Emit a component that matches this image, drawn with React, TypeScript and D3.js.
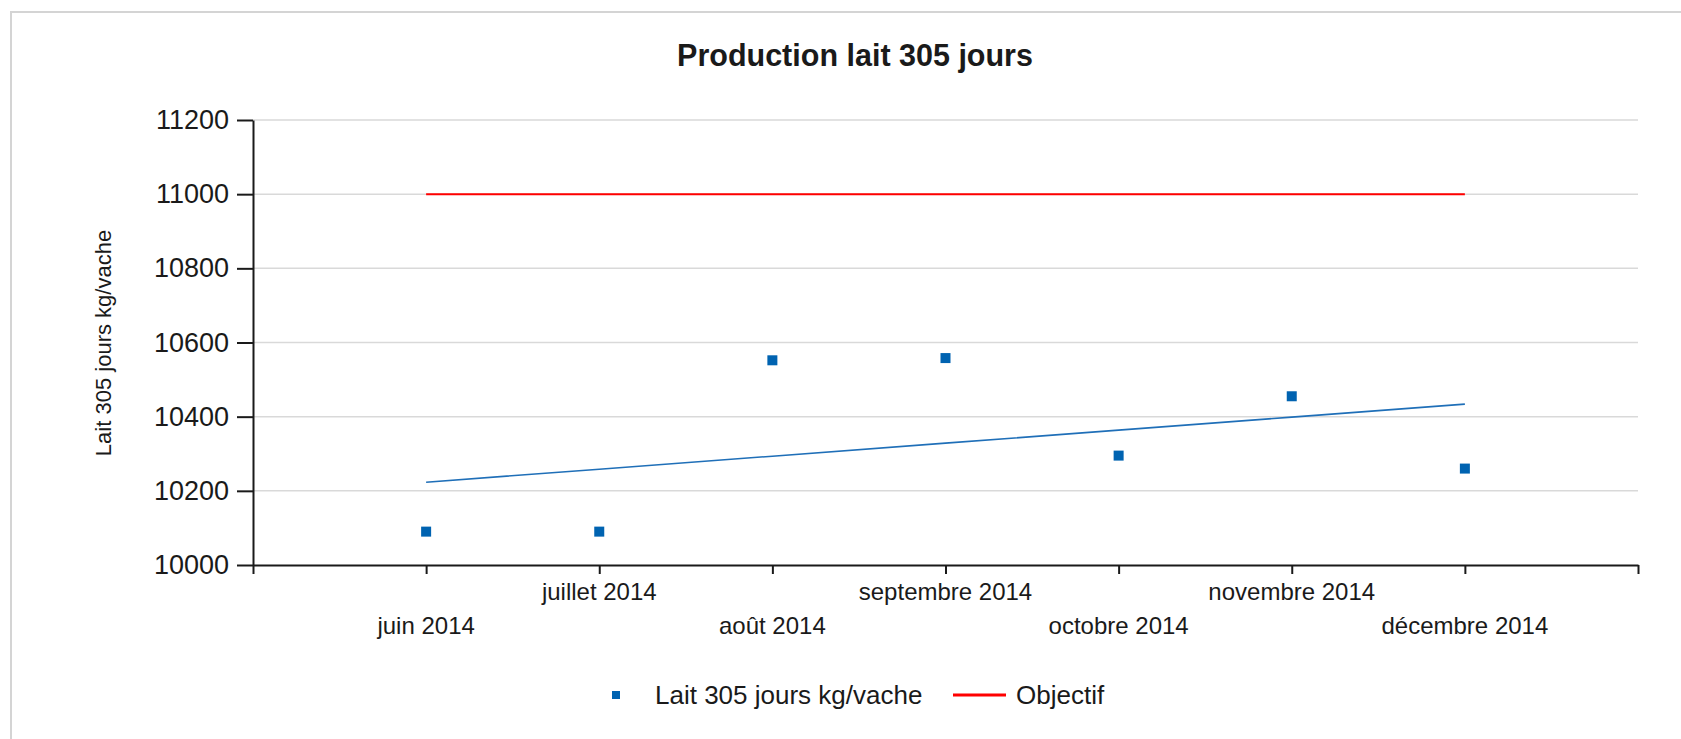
import React, { useEffect, useRef } from 'react';
import * as d3 from 'd3';

const months = ['juin 2014', 'juillet 2014', 'août 2014', 'septembre 2014', 'octobre 2014', 'novembre 2014', 'décembre 2014'];
const laitValues = [10090, 10090, 10552, 10558, 10295, 10455, 10260];
const objectifValues = [11000, 11000, 11000, 11000, 11000, 11000, 11000];
const yTicks = [10000, 10200, 10400, 10600, 10800, 11000, 11200];

const FONT = '"Liberation Sans", Arial, sans-serif';

const App = () => {
    const chartRef = useRef<SVGSVGElement>(null);

    useEffect(() => {
        const svg = d3.select(chartRef.current);
        svg.selectAll('*').remove();

        const x = d3.scaleLinear().domain([-1, 7]).range([253, 1638]);
        const y = d3.scaleLinear().domain([10000, 11200]).range([565, 120]);

        // frame
        svg.append('rect')
            .attr('x', 11).attr('y', 12)
            .attr('width', 1700).attr('height', 800)
            .attr('fill', '#fff')
            .attr('stroke', '#d4d4d4')
            .attr('stroke-width', 2);

        // title
        svg.append('text')
            .attr('x', 855).attr('y', 66)
            .attr('text-anchor', 'middle')
            .attr('font-family', FONT)
            .attr('font-size', 30.5)
            .attr('font-weight', 'bold')
            .attr('fill', '#1a1a1a')
            .text('Production lait 305 jours');

        // gridlines
        svg.append('g')
            .selectAll('line')
            .data(yTicks.filter(t => t > 10000))
            .enter()
            .append('line')
            .attr('x1', x(-1)).attr('x2', x(7))
            .attr('y1', d => y(d)).attr('y2', d => y(d))
            .attr('stroke', '#d9d9d9')
            .attr('stroke-width', 1.5);

        // y axis
        const yAxis = svg.append('g')
            .attr('transform', `translate(${x(-1)},0)`)
            .call(d3.axisLeft(y).tickValues(yTicks).tickSize(16).tickSizeOuter(0).tickPadding(8).tickFormat(d3.format('d')));
        yAxis.select('.domain').attr('stroke', '#1a1a1a').attr('stroke-width', 2);
        yAxis.selectAll('.tick line').attr('stroke', '#1a1a1a').attr('stroke-width', 2);
        yAxis.selectAll('.tick text')
            .attr('font-family', FONT)
            .attr('font-size', 27)
            .attr('fill', '#1a1a1a');

        // x axis
        const xAxis = svg.append('g')
            .attr('transform', `translate(0,${y(10000)})`)
            .call(d3.axisBottom(x).tickValues(d3.range(-1, 8)).tickSize(9).tickSizeOuter(0).tickFormat(() => ''));
        xAxis.select('.domain').attr('stroke', '#1a1a1a').attr('stroke-width', 2);
        xAxis.selectAll('.tick line').attr('stroke', '#1a1a1a').attr('stroke-width', 2);

        svg.append('g')
            .selectAll('text')
            .data(months)
            .enter()
            .append('text')
            .attr('x', (d, i) => x(i))
            .attr('y', (d, i) => (i % 2 === 0 ? 634 : 600))
            .attr('text-anchor', 'middle')
            .attr('font-family', FONT)
            .attr('font-size', 24)
            .attr('fill', '#1a1a1a')
            .text(d => d);

        // y axis title
        svg.append('text')
            .attr('transform', 'translate(111,343) rotate(-90)')
            .attr('text-anchor', 'middle')
            .attr('font-family', FONT)
            .attr('font-size', 22)
            .attr('fill', '#1a1a1a')
            .text('Lait 305 jours kg/vache');

        // objectif line
        const line = d3.line<number>().x((d, i) => x(i)).y(d => y(d));
        svg.append('path')
            .datum(objectifValues)
            .attr('d', line)
            .attr('fill', 'none')
            .attr('stroke', '#ff0000')
            .attr('stroke-width', 2);

        // linear trend of the lait series
        const xs = laitValues.map((d, i) => i);
        const mx = d3.mean(xs) as number;
        const my = d3.mean(laitValues) as number;
        const slope = d3.sum(xs, (xi, i) => (xi - mx) * (laitValues[i] - my)) / d3.sum(xs, xi => (xi - mx) ** 2);
        const trend = xs.map(xi => my + slope * (xi - mx));
        svg.append('path')
            .datum(trend)
            .attr('d', line)
            .attr('fill', 'none')
            .attr('stroke', '#1f6fb8')
            .attr('stroke-width', 1.6);

        // points
        svg.append('g')
            .selectAll('rect')
            .data(laitValues)
            .enter()
            .append('rect')
            .attr('x', (d, i) => x(i) - 5)
            .attr('y', d => y(d) - 5)
            .attr('width', 10)
            .attr('height', 10)
            .attr('fill', '#0063b1');

        // legend
        const legend = svg.append('g');
        legend.append('rect')
            .attr('x', 612).attr('y', 691)
            .attr('width', 8).attr('height', 8)
            .attr('fill', '#0063b1');
        legend.append('text')
            .attr('x', 655).attr('y', 704)
            .attr('font-family', FONT)
            .attr('font-size', 26)
            .attr('fill', '#1a1a1a')
            .text('Lait 305 jours kg/vache');
        legend.append('line')
            .attr('x1', 953).attr('x2', 1006)
            .attr('y1', 695).attr('y2', 695)
            .attr('stroke', '#ff0000')
            .attr('stroke-width', 3);
        legend.append('text')
            .attr('x', 1016).attr('y', 704)
            .attr('font-family', FONT)
            .attr('font-size', 26)
            .attr('fill', '#1a1a1a')
            .text('Objectif');
    }, []);

    return (
        <svg ref={chartRef} width={1681} height={739}
            style={{ position: 'absolute', left: 0, top: 0, background: '#fff' }} />
    );
};

export default App;
